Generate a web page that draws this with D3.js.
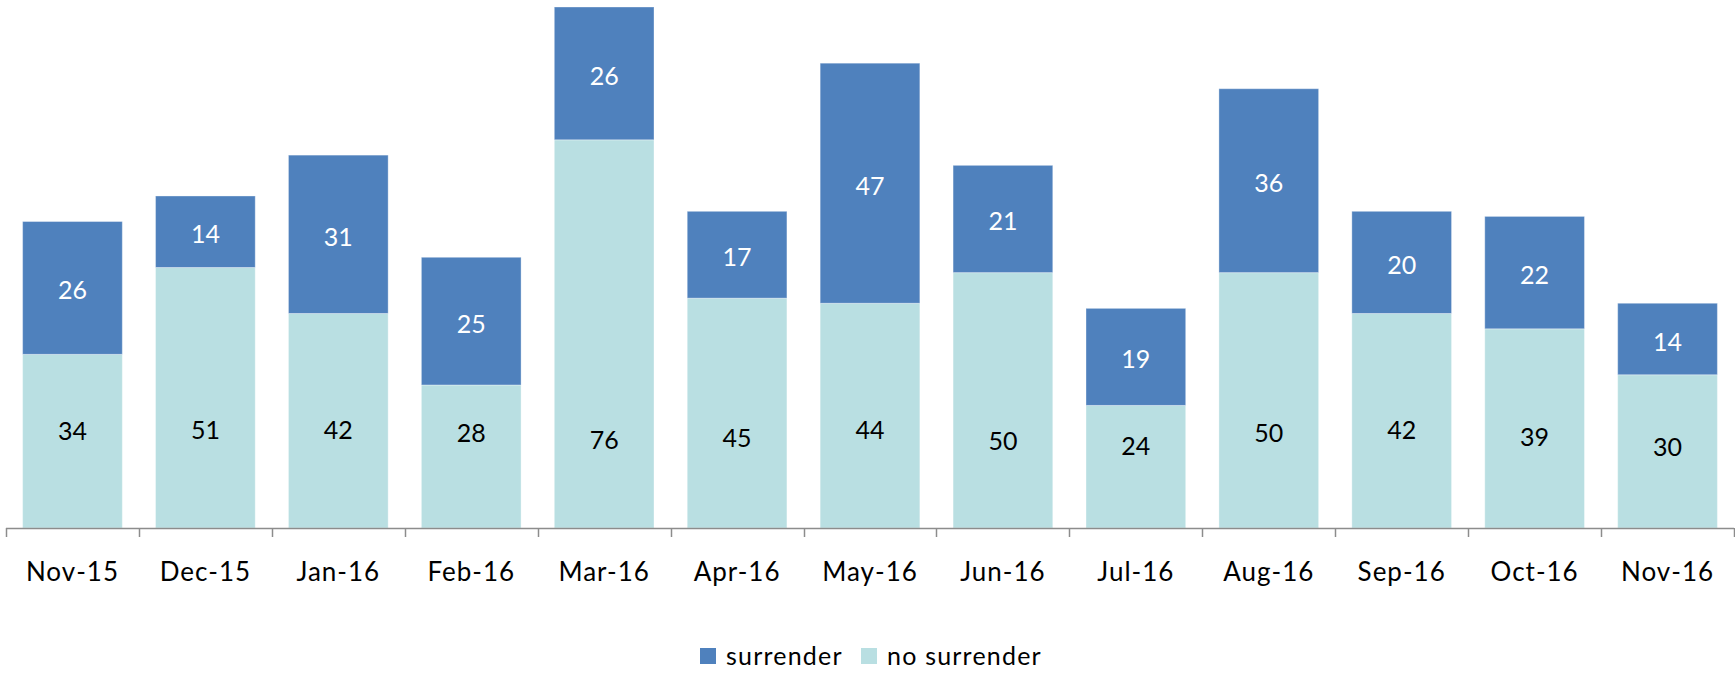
<!DOCTYPE html>
<html>
<head>
<meta charset="utf-8">
<script src="https://cdn.jsdelivr.net/npm/d3@7"></script>
<style>
  body { margin: 0; background: #fff; }
  text { font-family: Lato, "Open Sans", sans-serif; }
</style>
</head>
<body>
<div id="chart-area"></div>
<script>
// data
var months = ["Nov-15", "Dec-15", "Jan-16", "Feb-16", "Mar-16", "Apr-16", "May-16",
              "Jun-16", "Jul-16", "Aug-16", "Sep-16", "Oct-16", "Nov-16"];
var noSurrender = [34, 51, 42, 28, 76, 45, 44, 50, 24, 50, 42, 39, 30];
var surrender   = [26, 14, 31, 25, 26, 17, 47, 21, 19, 36, 20, 22, 14];
var seriesNames = ["surrender", "no surrender"];
// where the "no surrender" labels sit on the value axis (they were dragged by hand)
var noLabelLevel = [19.0, 19.2, 19.2, 18.6, 17.2, 17.7, 19.1, 17.0, 16.1, 18.6, 19.2, 17.8, 15.9];

var width = 1735, height = 674;
var colSurrender = "#4F81BD", colNo = "#B9DFE2";

var svg = d3.select("#chart-area")
    .append("svg")
        .attr("width", width)
        .attr("height", height);

var rows = months.map(function(m, i){
    return { month: m, no: noSurrender[i], yes: surrender[i], lvl: noLabelLevel[i] };
});

// Scales
var x = d3.scaleBand()
    .domain(months)
    .range([6, 1734])
    .paddingInner(0.25)
    .paddingOuter(0.125);
var band = (1734 - 6) / months.length;

var yMax = d3.max(rows, function(d){ return d.no + d.yes; });
var y = d3.scaleLinear()
    .domain([0, yMax])
    .range([528, 7]);

// Bars - no surrender (bottom)
svg.selectAll("rect.no")
    .data(rows)
    .enter().append("rect")
        .attr("class", "no")
        .attr("x", function(d){ return x(d.month); })
        .attr("width", x.bandwidth())
        .attr("y", function(d){ return y(d.no); })
        .attr("height", function(d){ return y(0) - y(d.no); })
        .attr("fill", colNo)
        .attr("stroke", "rgba(255,255,255,0.35)");

// Bars - surrender (top)
svg.selectAll("rect.yes")
    .data(rows)
    .enter().append("rect")
        .attr("class", "yes")
        .attr("x", function(d){ return x(d.month); })
        .attr("width", x.bandwidth())
        .attr("y", function(d){ return y(d.no + d.yes); })
        .attr("height", function(d){ return y(d.no) - y(d.no + d.yes); })
        .attr("fill", colSurrender)
        .attr("stroke", "rgba(255,255,255,0.35)");

// Data labels
svg.selectAll("text.lno")
    .data(rows)
    .enter().append("text")
        .attr("x", function(d){ return x(d.month) + x.bandwidth() / 2; })
        .attr("y", function(d){ return y(d.lvl); })
        .attr("dy", "0.36em")
        .attr("text-anchor", "middle")
        .attr("font-size", "25px")
        .attr("fill", "#000")
        .text(function(d){ return d.no; });

svg.selectAll("text.lyes")
    .data(rows)
    .enter().append("text")
        .attr("x", function(d){ return x(d.month) + x.bandwidth() / 2; })
        .attr("y", function(d){ return (y(d.no) + y(d.no + d.yes)) / 2; })
        .attr("dy", "0.46em")
        .attr("text-anchor", "middle")
        .attr("font-size", "25px")
        .attr("fill", "#fff")
        .text(function(d){ return d.yes; });

// X axis: baseline and ticks at band edges
svg.append("line")
    .attr("x1", 6).attr("x2", 1734)
    .attr("y1", y(0) + 0.5).attr("y2", y(0) + 0.5)
    .attr("stroke", "#8c8c8c")
    .attr("stroke-width", 1.5);

d3.range(months.length + 1).forEach(function(i){
    var tx = Math.round(6 + i * band) + 0.5;
    svg.append("line")
        .attr("x1", tx).attr("x2", tx)
        .attr("y1", y(0)).attr("y2", y(0) + 9)
        .attr("stroke", "#8c8c8c")
        .attr("stroke-width", 1.5);
});

svg.selectAll("text.tick")
    .data(months)
    .enter().append("text")
        .attr("x", function(d){ return x(d) + x.bandwidth() / 2; })
        .attr("y", 581)
        .attr("text-anchor", "middle")
        .attr("font-size", "26px")
        .attr("letter-spacing", "1px")
        .attr("fill", "#000")
        .text(function(d){ return d; });

// Legend
var legend = svg.append("g");
var legendX = [700, 861];
var legendCol = [colSurrender, colNo];
seriesNames.forEach(function(name, i){
    legend.append("rect")
        .attr("x", legendX[i])
        .attr("y", 648)
        .attr("width", 16)
        .attr("height", 16)
        .attr("fill", legendCol[i]);
    legend.append("text")
        .attr("x", legendX[i] + 26)
        .attr("y", 665)
        .attr("font-size", "25px")
        .attr("letter-spacing", "1.2px")
        .attr("fill", "#000")
        .text(name);
});
</script>
</body>
</html>
